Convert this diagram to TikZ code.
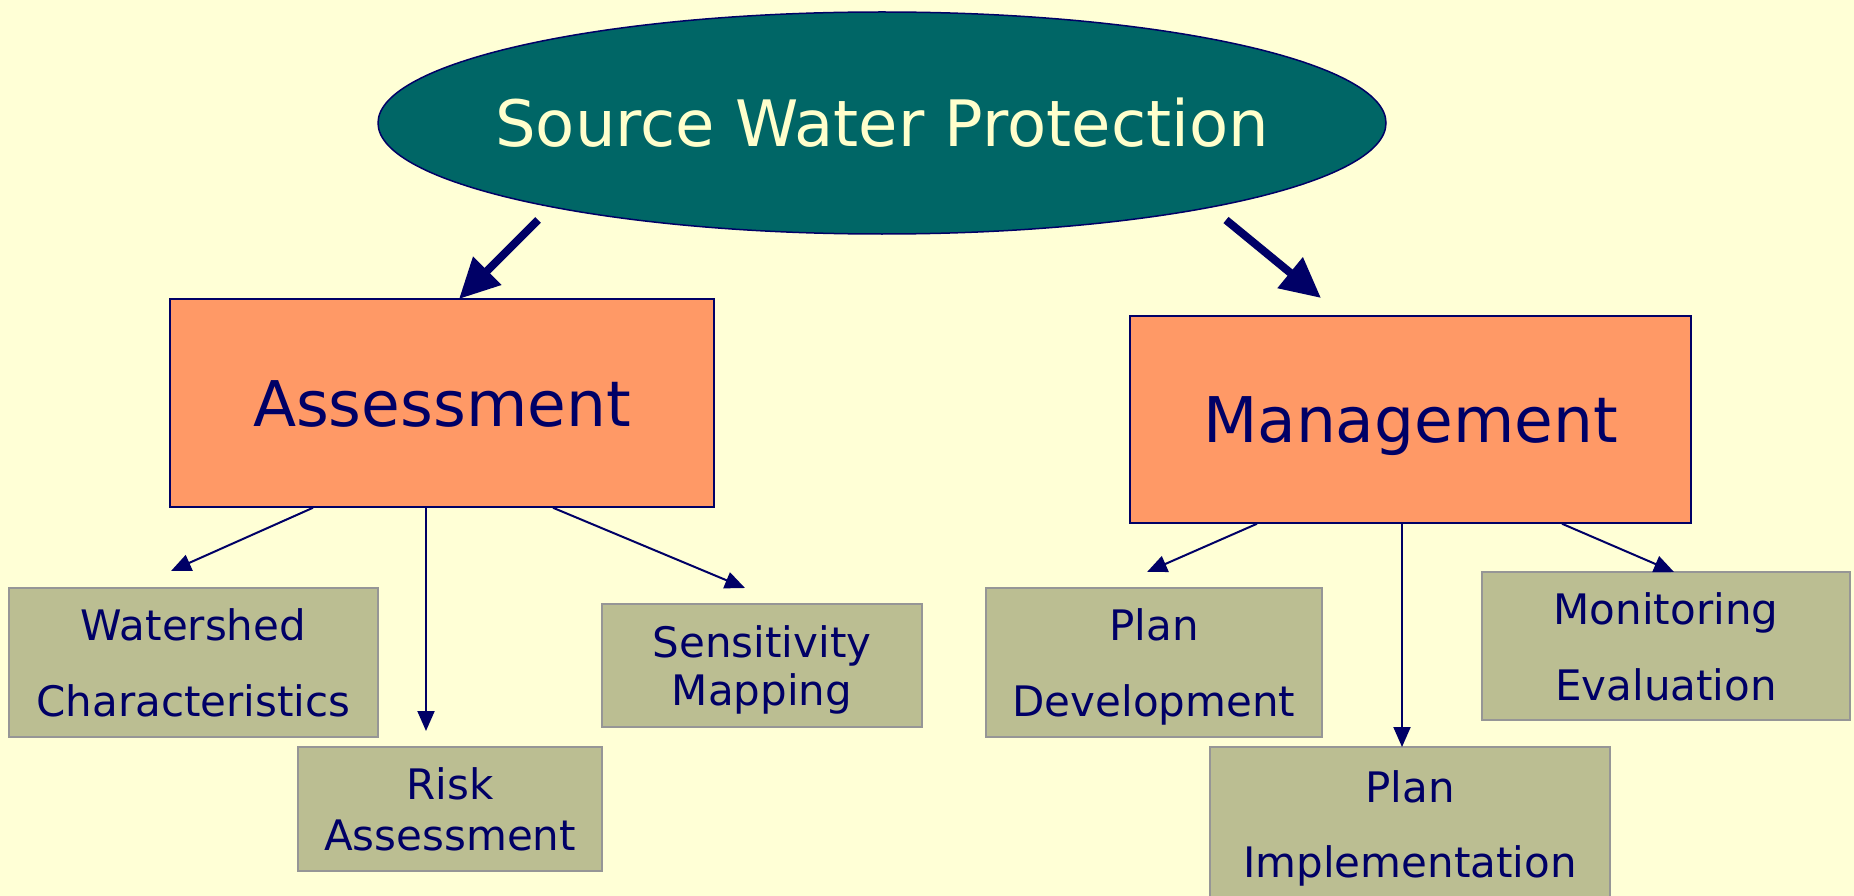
\documentclass[tikz,border=0pt]{standalone}
\usepackage{fontspec}
\setmainfont{DejaVu Sans}
\usetikzlibrary{arrows.meta,shapes.geometric}
\definecolor{bgc}{RGB}{255,255,214}
\definecolor{tealc}{RGB}{0,102,102}
\definecolor{creamc}{RGB}{255,255,204}
\definecolor{navyc}{RGB}{0,0,102}
\definecolor{orangec}{RGB}{255,153,102}
\definecolor{khakic}{RGB}{187,190,146}
\definecolor{greyc}{RGB}{150,150,150}
\begin{document}
\begin{tikzpicture}[x=1pt,y=-1pt,
  topnode/.style={ellipse, draw=navyc, line width=1.5pt, fill=tealc, text=creamc,
    minimum width=1008pt, minimum height=222pt, inner sep=0pt,
    font=\fontsize{64}{70}\selectfont, text height=47pt, text depth=0pt},
  mainbox/.style={draw=navyc, line width=1.5pt, fill=orangec, text=navyc, inner sep=0pt,
    font=\fontsize{63}{70}\selectfont, text height=46pt, text depth=0pt},
  leafbox/.style={draw=greyc, line width=2pt, fill=khakic, text=navyc, inner sep=0pt,
    align=center, text depth=0pt},
  wide/.style={font=\fontsize{42}{76}\selectfont, text height=108pt},
  bigarrow/.style={navyc, line width=8pt, -{Triangle[length=40pt,width=38pt]}},
  smallarrow/.style={navyc, line width=2pt, -{Triangle[length=20pt,width=17pt]}}
]
\fill[bgc] (0,0) rectangle (1854,896);
\useasboundingbox (0,0) rectangle (1854,896);

% top ellipse
\node[topnode] (swp) at (882,123) {\makebox[0pt]{Source Water Protection}};

% main boxes
\node[mainbox, minimum width=544pt, minimum height=208pt] (assess) at (442,403) {Assessment};
\node[mainbox, minimum width=561pt, minimum height=207pt] (manage) at (1410.5,419.5) {Management};

% leaf boxes
\node[leafbox, wide, minimum width=369pt, minimum height=149pt] (ws) at (193.5,662.5) {Watershed\\Characteristics};
\node[leafbox, minimum width=304pt, minimum height=124pt, font=\fontsize{42}{51}\selectfont, text height=83pt] (risk) at (450,809) {Risk\\Assessment};
\node[leafbox, minimum width=320pt, minimum height=123pt, font=\fontsize{42}{48}\selectfont, text height=80pt] (sens) at (762,665.5) {Sensitivity\\Mapping};
\node[leafbox, wide, minimum width=336pt, minimum height=149pt] (pdev) at (1154,662.5) {Plan\\Development};
\node[leafbox, minimum width=400pt, minimum height=153pt, font=\fontsize{42}{75}\selectfont, text height=107pt] (pimpl) at (1410,823.5) {Plan\\Implementation};
\node[leafbox, wide, minimum width=368pt, minimum height=148pt] (mon) at (1666,646) {Monitoring\\Evaluation};

% arrow end points
\coordinate (sL) at (538,220);
\coordinate (tL) at (459,299);
\coordinate (sR) at (1226,220);
\coordinate (tR) at (1321,298);
\coordinate (tws) at (171,571);
\coordinate (trisk) at (426,731);
\coordinate (tsens) at (745,588);
\coordinate (tpdev) at (1147,572);
\coordinate (tpimpl) at (1402,747);
\coordinate (tmon) at (1674,572);

\draw[bigarrow] (sL) -- (tL);
\draw[bigarrow] (sR) -- (tR);

\draw[smallarrow] ([xshift=-129pt]assess.south) -- (tws);
\draw[smallarrow] ([xshift=-16pt]assess.south) -- (trisk);
\draw[smallarrow] ([xshift=111pt]assess.south) -- (tsens);

\draw[smallarrow] ([xshift=-153.5pt]manage.south) -- (tpdev);
\draw[smallarrow] ([xshift=-8.5pt]manage.south) -- (tpimpl);
\draw[smallarrow] ([xshift=151.5pt]manage.south) -- (tmon);
\end{tikzpicture}
\end{document}
